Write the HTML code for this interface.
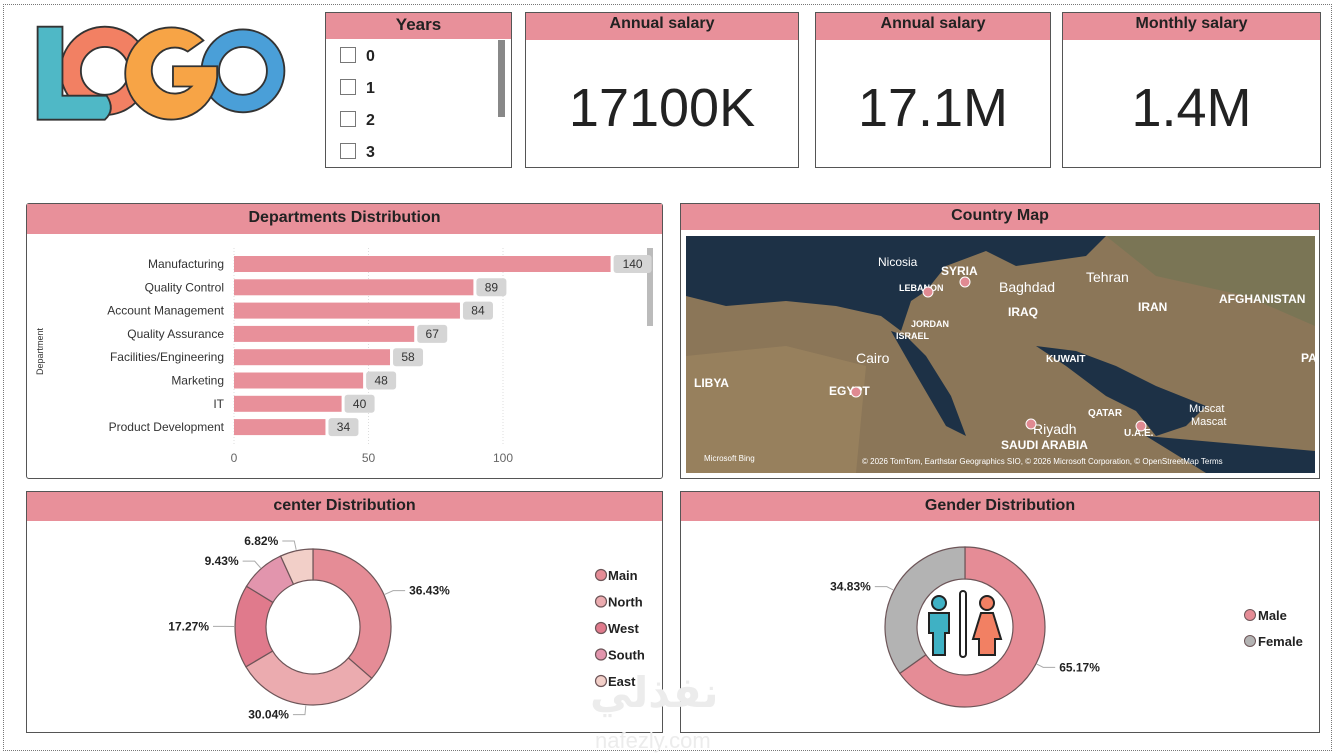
<!DOCTYPE html>
<html><head><meta charset="utf-8">
<style>
body{margin:0;width:1335px;height:755px;background:#fff;font-family:"Liberation Sans","DejaVu Sans",sans-serif;position:relative;overflow:hidden}
.abs{position:absolute}
.card{position:absolute;border:1px solid #555;background:#fff;box-sizing:border-box}
.hdr{position:absolute;left:0;right:0;top:0;background:#e8909a;font-weight:bold;text-align:center;color:#222;font-size:16px}
.kpi{position:absolute;left:0;right:0;text-align:center;font-size:54px;color:#222;top:64px}
</style></head><body>
<div class="abs" style="left:3px;top:4px;width:1327px;height:745px;border:1px dotted #777"></div>

<svg class="abs" style="left:33px;top:20px" width="256" height="110" viewBox="0 0 278 115">
 <circle cx="228" cy="53" r="45" fill="#4a9fd8" stroke="#333" stroke-width="2"/><circle cx="228" cy="53" r="26" fill="#fff" stroke="#333" stroke-width="2"/>
 <circle cx="78" cy="53" r="48" fill="#f28063" stroke="#333" stroke-width="2"/><circle cx="78" cy="53" r="26" fill="#fff" stroke="#333" stroke-width="2"/>
 <path d="M5 5 H32 V80 H80 Q90 95 78 106 H5 Z" fill="#4fb8c6" stroke="#333" stroke-width="2"/>
 <path d="M185 20 A50 50 0 1 0 200 60 V48 H152 V70 H172 A25 25 0 1 1 168 32 Z" fill="#f7a446" stroke="#333" stroke-width="2"/>
</svg>

<div class="card" style="left:325px;top:12px;width:187px;height:156px">
 <div class="hdr" style="height:26px;line-height:24px;font-size:17px">Years</div>
 <div class="abs" style="left:172px;top:27px;width:7px;height:77px;background:#888"></div>
 <div class="abs" style="left:14px;top:28px;font-size:16px;font-weight:bold;line-height:32px;color:#222">
  <div><span style="display:inline-block;width:14px;height:14px;border:1px solid #777;vertical-align:-2px;margin-right:10px"></span>0</div>
  <div><span style="display:inline-block;width:14px;height:14px;border:1px solid #777;vertical-align:-2px;margin-right:10px"></span>1</div>
  <div><span style="display:inline-block;width:14px;height:14px;border:1px solid #777;vertical-align:-2px;margin-right:10px"></span>2</div>
  <div><span style="display:inline-block;width:14px;height:14px;border:1px solid #777;vertical-align:-2px;margin-right:10px"></span>3</div>
 </div>
</div>

<div class="card" style="left:525px;top:12px;width:274px;height:156px"><div class="hdr" style="height:27px;line-height:22px">Annual salary</div><div class="kpi">17100K</div></div>
<div class="card" style="left:815px;top:12px;width:236px;height:156px"><div class="hdr" style="height:27px;line-height:22px">Annual salary</div><div class="kpi">17.1M</div></div>
<div class="card" style="left:1062px;top:12px;width:259px;height:156px"><div class="hdr" style="height:27px;line-height:22px">Monthly salary</div><div class="kpi">1.4M</div></div>

<div class="card" style="left:26px;top:203px;width:637px;height:276px;border-radius:3px">
 <div class="hdr" style="height:30px;line-height:28px">Departments Distribution</div>
</div>
<svg class="abs" id="dept" style="left:27px;top:234px" width="634" height="242"></svg>

<div class="card" style="left:680px;top:203px;width:640px;height:276px">
 <div class="hdr" style="height:26px;line-height:24px">Country Map</div>
</div>
<svg class="abs" style="left:686px;top:236px" width="629" height="237">
 <rect width="629" height="237" fill="#8b7658"/>
 <path d="M0 0 H420 L400 20 L330 30 L300 15 L260 30 L240 55 L225 65 L215 95 L195 80 L150 70 L100 65 L40 70 L0 60 Z" fill="#1d3146"/>
 <path d="M205 95 L225 130 L260 190 L280 200 L265 160 L240 120 L220 100 Z" fill="#1d3146"/>
 <path d="M350 110 L380 130 L420 160 L450 175 L470 200 L500 190 L520 170 L470 150 L430 130 L390 115 Z" fill="#1d3146"/>
 <path d="M460 200 L629 215 V237 H520 Z" fill="#1d3146"/>
 <path d="M420 0 H629 V90 L560 60 L470 40 Z" fill="#7a7555"/>
 <path d="M0 120 L100 110 L180 130 L170 237 H0 Z" fill="#9c8460" opacity=".7"/>
 <g font-size="12" fill="#fff" font-weight="bold">
  <text x="192" y="30" font-weight="normal">Nicosia</text><text x="255" y="39">SYRIA</text><text x="213" y="55" font-size="9">LEBANON</text>
  <text x="313" y="56" font-size="14" font-weight="normal">Baghdad</text><text x="322" y="80">IRAQ</text><text x="400" y="46" font-size="14" font-weight="normal">Tehran</text>
  <text x="452" y="75">IRAN</text><text x="533" y="67">AFGHANISTAN</text><text x="615" y="126">PAKIST</text>
  <text x="225" y="91" font-size="9">JORDAN</text><text x="210" y="103" font-size="9">ISRAEL</text><text x="170" y="127" font-size="14" font-weight="normal">Cairo</text>
  <text x="360" y="126" font-size="10">KUWAIT</text><text x="8" y="151">LIBYA</text><text x="143" y="159">EGYPT</text>
  <text x="402" y="180" font-size="10">QATAR</text><text x="347" y="198" font-size="14" font-weight="normal">Riyadh</text><text x="315" y="213">SAUDI ARABIA</text>
  <text x="438" y="200" font-size="10">U.A.E.</text><text x="503" y="176" font-size="11" font-weight="normal">Muscat</text><text x="505" y="189" font-size="11" font-weight="normal">Mascat</text>
 </g>
 <g fill="#e08a92" stroke="#fff" stroke-width="1"><circle cx="242" cy="56" r="5"/><circle cx="279" cy="46" r="5"/><circle cx="170" cy="156" r="5"/><circle cx="345" cy="188" r="5"/><circle cx="455" cy="190" r="5"/></g>
 <text x="18" y="225" font-size="8" fill="#fff">Microsoft Bing</text>
 <text x="176" y="228" font-size="8" fill="#fff">© 2026 TomTom, Earthstar Geographics SIO, © 2026 Microsoft Corporation, © OpenStreetMap   Terms</text>
</svg>

<div class="card" style="left:26px;top:491px;width:637px;height:242px">
 <div class="hdr" style="height:29px;line-height:27px">center Distribution</div>
</div>
<svg class="abs" id="center" style="left:27px;top:521px" width="634" height="210"></svg>

<div class="card" style="left:680px;top:491px;width:640px;height:242px">
 <div class="hdr" style="height:29px;line-height:27px">Gender Distribution</div>
</div>
<svg class="abs" id="gender" style="left:681px;top:521px" width="638" height="210"></svg>

<div class="abs" style="left:590px;top:668px;font-size:42px;font-weight:bold;color:#ececec;font-family:'DejaVu Sans',sans-serif">نفذلي</div>
<div class="abs" style="left:595px;top:728px;font-size:22px;color:#ececec">nafezly.com</div>

<script>
const NS='http://www.w3.org/2000/svg';
function mk(p,t,a,txt){const e=document.createElementNS(NS,t);for(const k in a)e.setAttribute(k,a[k]);if(txt!==undefined)e.textContent=txt;p.appendChild(e);return e;}

// Departments chart data
const deptNames=['Manufacturing','Quality Control','Account Management','Quality Assurance','Facilities/Engineering','Marketing','IT','Product Development'];
const deptValues=[140,89,84,67,58,48,40,34];
const deptTicks=[0,50,100];
const ds=document.getElementById('dept');
const x0=207, xs=v=>x0+v*2.69, yb=i=>30+i*23.3;
deptTicks.forEach(t=>{const l=mk(ds,'line',{x1:xs(t),x2:xs(t),y1:14,y2:210,stroke:'#ddd','stroke-dasharray':'1,2'});
 
 const tx=mk(ds,'text',{x:xs(t),y:228,'font-size':12,fill:'#666','text-anchor':'middle'},t);
 });
const yt=mk(ds,'text',{x:0,y:0,'font-size':9,fill:'#333',transform:'translate(16,141) rotate(-90)'},'Department');

mk(ds,'rect',{x:620,y:14,width:6,height:78,fill:'#bbb'});
deptValues.forEach((v,i)=>{const y=yb(i);
 const r=mk(ds,'rect',{x:x0,y:y-8,width:xs(v)-x0,height:16,fill:'#e8909a'});
 
 const c=mk(ds,'text',{x:197,y:y+4,'font-size':12,fill:'#333','text-anchor':'end'},deptNames[i]);
 
 const w=String(v).length*8+14;
 const b=mk(ds,'rect',{x:xs(v)+3,y:y-9,width:w,height:18,rx:3,fill:'#d5d5d5'});
 
 const l=mk(ds,'text',{x:xs(v)+3+w/2,y:y+4,'font-size':12,fill:'#333','text-anchor':'middle'},v);
 
});

function donut(svg,cx,cy,R,r,vals,cols,start){
 let a=start;const out=[];const tot=vals.reduce((s,v)=>s+v,0);
 vals.forEach((v,i)=>{const a2=a+v/tot*2*Math.PI;const p=(ang,rad)=>[cx+rad*Math.sin(ang),cy-rad*Math.cos(ang)];
  const [x1,y1]=p(a,R),[x2,y2]=p(a2,R),[x3,y3]=p(a2,r),[x4,y4]=p(a,r);const lg=(a2-a)>Math.PI?1:0;
  const s=mk(svg,'path',{d:`M${x1} ${y1}A${R} ${R} 0 ${lg} 1 ${x2} ${y2}L${x3} ${y3}A${r} ${r} 0 ${lg} 0 ${x4} ${y4}Z`,fill:cols[i],stroke:'#6d5558','stroke-width':1.2});
  out.push({s,mid:(a+a2)/2});a=a2;});
 return out;}

// Center chart data
const centerNames=['Main','North','West','South','East'];
const centerValues=[36.43,30.04,17.27,9.43,6.82];
const centerCols=['#e58c96','#ebabaf','#e07a8c','#e295ad','#f2cfc8'];
const cs=document.getElementById('center');
const cc=donut(cs,286,106,78,47,centerValues,centerCols,0);
cc.forEach((o,i)=>{
 const m=o.mid,ex=286+88*Math.sin(m),ey=106-88*Math.cos(m),right=Math.sin(m)>0;
 mk(cs,'polyline',{points:`${286+79*Math.sin(m)},${106-79*Math.cos(m)} ${ex},${ey} ${ex+(right?12:-12)},${ey}`,fill:'none',stroke:'#aaa'});
 const t=mk(cs,'text',{x:ex+(right?16:-16),y:ey+4,'font-size':12,'font-weight':'bold',fill:'#222','text-anchor':right?'start':'end'},centerValues[i].toFixed(2)+'%');
 
 const lc=mk(cs,'circle',{cx:574,cy:54+i*26.5,r:5.5,fill:centerCols[i],stroke:'#6d5558','stroke-width':1.2});
 
 const lt=mk(cs,'text',{x:581,y:59+i*26.5,'font-size':13,'font-weight':'bold',fill:'#222'},centerNames[i]);
 
});

// Gender chart data
const genderNames=['Male','Female'];
const genderValues=[65.17,34.83];
const genderCols=['#e58c96','#b3b3b3'];
const gs=document.getElementById('gender');
const gc=donut(gs,284,106,80,48,genderValues,genderCols,0);
gc.forEach((o,i)=>{
 const m=o.mid,ex=284+88*Math.sin(m),ey=106-88*Math.cos(m),right=Math.sin(m)>0;
 mk(gs,'polyline',{points:`${284+81*Math.sin(m)},${106-81*Math.cos(m)} ${ex},${ey} ${ex+(right?12:-12)},${ey}`,fill:'none',stroke:'#aaa'});
 const t=mk(gs,'text',{x:ex+(right?16:-16),y:ey+4,'font-size':12,'font-weight':'bold',fill:'#222','text-anchor':right?'start':'end'},genderValues[i].toFixed(2)+'%');
 
 const lc=mk(gs,'circle',{cx:569,cy:94+i*26,r:5.5,fill:genderCols[i],stroke:'#6d5558','stroke-width':1});
 
 const lt=mk(gs,'text',{x:577,y:99+i*26,'font-size':13,'font-weight':'bold',fill:'#222'},genderNames[i]);
 
});
const ic=mk(gs,'g',{});


mk(ic,'circle',{cx:258,cy:82,r:7,fill:'#3fb1c4',stroke:'#222','stroke-width':2});
mk(ic,'path',{d:'M248 92 H268 V112 H264 V134 H252 V112 H248 Z',fill:'#3fb1c4',stroke:'#222','stroke-width':2});
mk(ic,'rect',{x:279,y:70,width:6,height:66,rx:3,fill:'#fff',stroke:'#222','stroke-width':2});
mk(ic,'circle',{cx:306,cy:82,r:7,fill:'#f28063',stroke:'#222','stroke-width':2});
mk(ic,'path',{d:'M300 92 H312 L320 118 H314 V134 H298 V118 H292 Z',fill:'#f28063',stroke:'#222','stroke-width':2});
</script>
</body></html>
